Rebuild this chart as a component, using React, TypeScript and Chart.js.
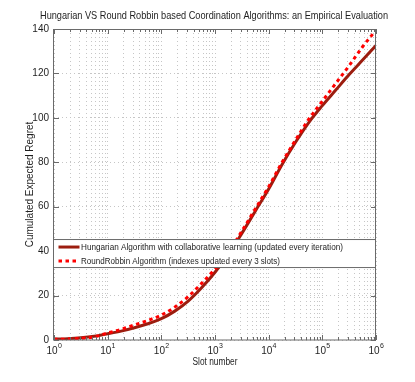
import React, { useEffect, useRef } from 'react';
import { Chart, registerables } from 'chart.js';

Chart.register(...registerables);

const chartTitle = 'Hungarian VS Round Robbin based Coordination Algorithms: an Empirical Evaluation';
const xAxisTitle = 'Slot number';
const yAxisTitle = 'Cumulated Expected Regret';

const seriesLabels = [
  'Hungarian Algorithm with collaborative learning (updated every iteration)',
  'RoundRobbin Algorithm (indexes updated every 3 slots)',
];

const slots = [
  1, 1.78, 3.16, 5.62, 10, 17.8, 31.6, 56.2, 100, 178, 316, 562, 1000, 1778, 3162, 5623,
  10000, 17783, 31623, 56234, 100000, 177828, 316228, 562341, 1000000,
];

const hungarian = [
  0.4, 0.6, 1.0, 1.7, 2.8, 4.0, 5.5, 7.3, 9.6, 13, 17.5, 23.5, 30.5, 38.5, 48, 58,
  68, 79, 89, 98, 105.5, 112.5, 119.5, 126, 132.6,
];

const roundRobbin = [
  0.3, 0.4, 0.7, 1.4, 3.2, 4.8, 6.8, 8.8, 11.2, 14.8, 19.5, 25.5, 32, 39.5, 49, 59,
  69, 80, 90, 99.5, 107.5, 115.5, 123.5, 132, 139.5,
];

const xDecades = [1, 10, 100, 1000, 10000, 100000, 1000000];
const xTickBase = '10';
const xTickExponents = ['0', '1', '2', '3', '4', '5', '6'];
const xMinorMultipliers = [2, 3, 4, 5, 6, 7, 8, 9];
const yTicks = [0, 20, 40, 60, 80, 100, 120, 140];

const FONT = '"Liberation Sans", Arial, Helvetica, sans-serif';
const SOLID_COLOR = '#9c1d0f';
const DOT_COLOR = '#ff0000';
const DOT_DASH = [3.5, 3.5];
const GRID_COLOR = '#c6c6c6';
const FRAME_COLOR = '#6a6a6a';
const TEXT_COLOR = '#1e1e1e';

const decorPlugin = {
  id: 'matlabDecor',
  afterDraw(chart: any) {
    const ctx = chart.ctx as CanvasRenderingContext2D;
    const ca = chart.chartArea;
    const xs = chart.scales.x;
    const ys = chart.scales.y;

    // inner tick marks
    ctx.save();
    ctx.strokeStyle = FRAME_COLOR;
    ctx.lineWidth = 1;
    ctx.beginPath();
    for (const t of xs.ticks) {
      const px = Math.round(xs.getPixelForValue(t.value)) + 0.5;
      const len = xDecades.includes(t.value) ? 5 : 3;
      ctx.moveTo(px, ca.bottom);
      ctx.lineTo(px, ca.bottom - len);
      ctx.moveTo(px, ca.top);
      ctx.lineTo(px, ca.top + len);
    }
    for (const v of yTicks) {
      const py = Math.round(ys.getPixelForValue(v)) + 0.5;
      ctx.moveTo(ca.left, py);
      ctx.lineTo(ca.left + 5, py);
      ctx.moveTo(ca.right, py);
      ctx.lineTo(ca.right - 5, py);
    }
    ctx.stroke();
    ctx.strokeRect(ca.left - 0.5, ca.top + 0.5, ca.right - ca.left, ca.bottom - ca.top - 0.5);
    ctx.restore();

    // x tick labels with superscript exponents
    ctx.save();
    ctx.fillStyle = TEXT_COLOR;
    ctx.textAlign = 'left';
    ctx.textBaseline = 'alphabetic';
    xDecades.forEach((d, i) => {
      const px = xs.getPixelForValue(d);
      ctx.font = `10px ${FONT}`;
      const wBase = ctx.measureText(xTickBase).width;
      ctx.font = `7px ${FONT}`;
      const wExp = ctx.measureText(xTickExponents[i]).width;
      const x0 = px - (wBase + wExp) / 2;
      ctx.font = `10px ${FONT}`;
      ctx.fillText(xTickBase, x0, ca.bottom + 14);
      ctx.font = `7px ${FONT}`;
      ctx.fillText(xTickExponents[i], x0 + wBase + 0.3, ca.bottom + 8);
    });
    ctx.restore();

    // legend box
    const lx = ca.left - 0.5;
    const ly = ys.getPixelForValue(45) - 0.5;
    const lh = 28;
    const lw = ca.right - ca.left;
    ctx.save();
    ctx.fillStyle = '#ffffff';
    ctx.fillRect(lx, ly, lw, lh);
    ctx.strokeStyle = FRAME_COLOR;
    ctx.lineWidth = 1;
    ctx.strokeRect(lx, ly, lw, lh);

    const rows = [ly + 7.5, ly + 21.5];
    const widths = [262, 199];
    chart.data.datasets.forEach((ds: any, i: number) => {
      const y = rows[i];
      ctx.save();
      ctx.strokeStyle = ds.borderColor;
      ctx.lineWidth = 3;
      ctx.lineCap = 'butt';
      ctx.setLineDash(ds.borderDash || []);
      ctx.beginPath();
      ctx.moveTo(lx + 5, y);
      ctx.lineTo(lx + 26, y);
      ctx.stroke();
      ctx.restore();
      ctx.fillStyle = TEXT_COLOR;
      ctx.font = `9.5px ${FONT}`;
      ctx.textAlign = 'left';
      ctx.textBaseline = 'middle';
      ctx.fillText(ds.label, lx + 27.5, y + 0.5, widths[i]);
    });
    ctx.restore();

    // titles
    ctx.save();
    ctx.fillStyle = TEXT_COLOR;
    ctx.textAlign = 'center';
    ctx.textBaseline = 'middle';
    ctx.font = `10.5px ${FONT}`;
    ctx.fillText(chartTitle, 214, 16, 348);
    ctx.font = `10px ${FONT}`;
    ctx.fillText(xAxisTitle, (ca.left + ca.right) / 2, 362, 45);
    ctx.translate(30, (ca.top + ca.bottom) / 2);
    ctx.rotate(-Math.PI / 2);
    ctx.fillText(yAxisTitle, 0, 0, 126);
    ctx.restore();
  },
};

export default function App() {
  const canvasRef = useRef<HTMLCanvasElement | null>(null);

  useEffect(() => {
    document.body.style.margin = '0';
    const canvas = canvasRef.current;
    if (!canvas) return;
    const chart = new Chart(canvas, {
      type: 'line',
      data: {
        datasets: [
          {
            label: seriesLabels[0],
            data: slots.map((s, i) => ({ x: s, y: hungarian[i] })),
            borderColor: SOLID_COLOR,
            backgroundColor: SOLID_COLOR,
            borderWidth: 3,
            pointRadius: 0,
            cubicInterpolationMode: 'monotone',
            order: 1,
          },
          {
            label: seriesLabels[1],
            data: slots.map((s, i) => ({ x: s, y: roundRobbin[i] })),
            borderColor: DOT_COLOR,
            backgroundColor: DOT_COLOR,
            borderWidth: 3,
            borderDash: DOT_DASH,
            borderCapStyle: 'butt',
            pointRadius: 0,
            cubicInterpolationMode: 'monotone',
            order: 0,
          },
        ],
      },
      options: {
        animation: false,
        responsive: false,
        devicePixelRatio: 1,
        layout: { padding: { top: 29, right: 39, bottom: 0, left: 0 } },
        plugins: {
          legend: { display: false },
          title: { display: false },
          tooltip: { enabled: false },
        },
        scales: {
          x: {
            type: 'logarithmic',
            min: 1,
            max: 1000000,
            afterBuildTicks: (scale: any) => {
              const t: any[] = [];
              xDecades.forEach((d, i) => {
                t.push({ value: d });
                if (i < xDecades.length - 1) {
                  xMinorMultipliers.forEach((m) => t.push({ value: d * m }));
                }
              });
              scale.ticks = t;
            },
            afterFit: (scale: any) => {
              scale.height = 42;
            },
            ticks: {
              display: false,
              autoSkip: false,
              maxRotation: 0,
              minRotation: 0,
            },
            grid: { color: GRID_COLOR, lineWidth: 1, drawTicks: false },
            border: { display: false, dash: [1, 3] },
          },
          y: {
            type: 'linear',
            min: 0,
            max: 140,
            afterBuildTicks: (scale: any) => {
              scale.ticks = yTicks.map((v) => ({ value: v }));
            },
            afterFit: (scale: any) => {
              scale.width = 54;
            },
            ticks: {
              padding: 5,
              color: TEXT_COLOR,
              font: { family: FONT, size: 10 },
            },
            grid: { color: GRID_COLOR, lineWidth: 1, drawTicks: false },
            border: { display: false, dash: [1, 3] },
          },
        },
      },
      plugins: [decorPlugin],
    } as any);
    return () => chart.destroy();
  }, []);

  return (
    <div style={{ width: 415, height: 382 }}>
      <canvas ref={canvasRef} width={415} height={382} style={{ display: 'block' }} />
    </div>
  );
}
